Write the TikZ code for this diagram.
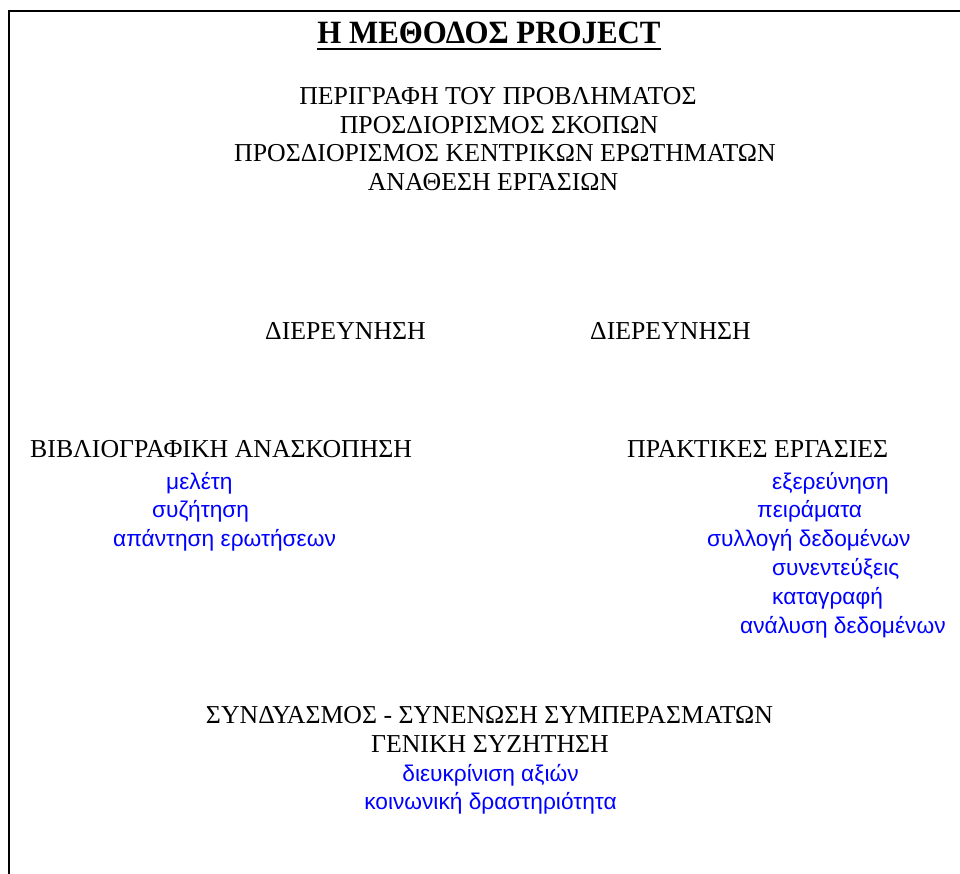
\documentclass[tikz,border=0pt]{standalone}
\usepackage{fontspec}
\setmainfont{Liberation Serif}
\newfontfamily\bluefont{Liberation Sans}
\definecolor{txtblue}{RGB}{0,0,255}
\tikzset{
  blk/.style={inner sep=0pt, anchor=base, font=\fontsize{25.8}{30}\selectfont, text=black},
  blkw/.style={blk, anchor=base west},
  blu/.style={inner sep=0pt, anchor=base west, font=\bluefont\fontsize{22.7}{26}\selectfont, text=txtblue},
  bluc/.style={blu, anchor=base},
  frame/.style={line width=2pt, line cap=rect}
}
\begin{document}
\begin{tikzpicture}[x=1pt,y=-1pt]
\useasboundingbox (0,0) rectangle (960,874);
\draw[frame] (8.5,874) -- (8.5,11) -- (960,11);
% title
\node[inner sep=0pt, anchor=base, font=\bfseries\fontsize{32.5}{36}\selectfont] (title) at (489,43.5) {\scalebox{0.95}[1]{Η ΜΕΘΟΔΟΣ PROJECT}};
\draw[line width=2pt] ([yshift=-5.5pt]title.base west) -- ([yshift=-5.5pt]title.base east);
% top block
\node[blk] (t1) at (498,105) {ΠΕΡΙΓΡΑΦΗ ΤΟΥ ΠΡΟΒΛΗΜΑΤΟΣ};
\node[blk] (t2) at (499,134) {ΠΡΟΣΔΙΟΡΙΣΜΟΣ ΣΚΟΠΩΝ};
\node[blk] (t3) at (505,162) {ΠΡΟΣΔΙΟΡΙΣΜΟΣ ΚΕΝΤΡΙΚΩΝ ΕΡΩΤΗΜΑΤΩΝ};
\node[blk] (t4) at (493,191) {ΑΝΑΘΕΣΗ ΕΡΓΑΣΙΩΝ};
% investigation
\node[blkw] (d1) at (265,339) {ΔΙΕΡΕΥΝΗΣΗ};
\node[blkw] (d2) at (590,339) {ΔΙΕΡΕΥΝΗΣΗ};
% left column
\node[blkw] (bib) at (30,457) {ΒΙΒΛΙΟΓΡΑΦΙΚΗ ΑΝΑΣΚΟΠΗΣΗ};
\node[blu] (l1) at (166,489) {μελέτη};
\node[blu] (l2) at (152,517) {συζήτηση};
\node[blu] (l3) at (113,546) {απάντηση ερωτήσεων};
% right column
\node[blkw] (pra) at (627,457) {ΠΡΑΚΤΙΚΕΣ ΕΡΓΑΣΙΕΣ};
\node[blu] (r1) at (772,489) {εξερεύνηση};
\node[blu] (r2) at (757,517) {πειράματα};
\node[blu] (r3) at (707,546) {συλλογή δεδομένων};
\node[blu] (r4) at (772,575) {συνεντεύξεις};
\node[blu] (r5) at (772,604) {καταγραφή};
\node[blu] (r6) at (740,633) {ανάλυση δεδομένων};
% bottom block
\node[blk] (b1) at (489.5,723) {ΣΥΝΔΥΑΣΜΟΣ - ΣΥΝΕΝΩΣΗ ΣΥΜΠΕΡΑΣΜΑΤΩΝ};
\node[blk] (b2) at (490,752) {ΓΕΝΙΚΗ ΣΥΖΗΤΗΣΗ};
\node[bluc] (b3) at (490.5,781) {διευκρίνιση αξιών};
\node[bluc] (b4) at (490.5,809) {κοινωνική δραστηριότητα};
\end{tikzpicture}
\end{document}
